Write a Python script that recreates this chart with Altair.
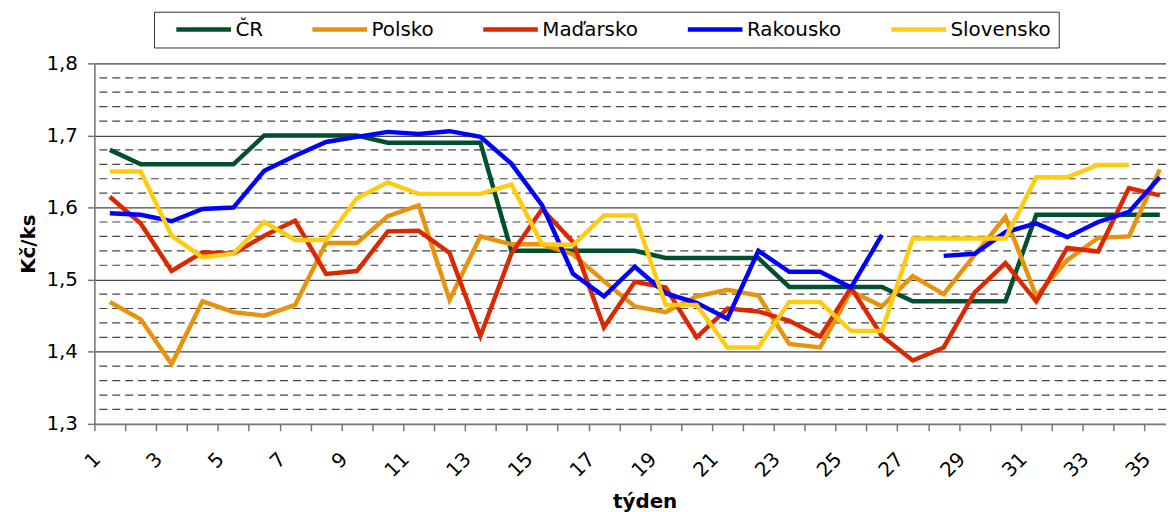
import altair as alt
import pandas as pd

FONT = "DejaVu Sans"

weeks = list(range(1, 36))
series_names = ["ČR", "Polsko", "Maďarsko", "Rakousko", "Slovensko"]
series_colors = ["#00502D", "#E8930C", "#DC2800", "#0000FF", "#FFCC11"]

cr = [1.68, 1.66, 1.66, 1.66, 1.66, 1.70, 1.70, 1.70, 1.70, 1.69,
      1.69, 1.69, 1.69, 1.54, 1.54, 1.54, 1.54, 1.54, 1.53, 1.53,
      1.53, 1.53, 1.49, 1.49, 1.49, 1.49, 1.47, 1.47, 1.47, 1.47,
      1.59, 1.59, 1.59, 1.59, 1.59]
polsko = [1.469, 1.445, 1.383, 1.470, 1.455, 1.450, 1.465, 1.551, 1.551, 1.588,
          1.603, 1.472, 1.560, 1.549, 1.549, 1.535, 1.498, 1.463, 1.455, 1.477,
          1.486, 1.478, 1.411, 1.406, 1.484, 1.463, 1.505, 1.480, 1.534, 1.587,
          1.477, 1.527, 1.558, 1.560, 1.653]
madarsko = [1.615, 1.578, 1.512, 1.538, 1.536, 1.561, 1.582, 1.508, 1.512, 1.567,
            1.568, 1.537, 1.422, 1.536, 1.598, 1.552, 1.434, 1.497, 1.489, 1.420,
            1.460, 1.456, 1.443, 1.421, 1.489, 1.422, 1.388, 1.406, 1.482, 1.523,
            1.470, 1.544, 1.539, 1.627, 1.617]
rakousko = [1.592, 1.590, 1.581, 1.598, 1.600, 1.651, 1.672, 1.691, 1.698, 1.705,
            1.702, 1.706, 1.698, 1.661, 1.603, 1.508, 1.477, 1.518, 1.481, 1.468,
            1.446, 1.540, 1.511, 1.511, 1.489, 1.562, None, 1.533, 1.536, 1.566,
            1.578, 1.559, 1.580, 1.594, 1.642]
slovensko = [1.650, 1.650, 1.561, 1.531, 1.536, 1.580, 1.555, 1.555, 1.613, 1.635,
             1.619, 1.619, 1.619, 1.632, 1.549, 1.548, 1.589, 1.589, 1.465, 1.465,
             1.406, 1.406, 1.469, 1.469, 1.429, 1.429, 1.557, 1.557, 1.557, 1.557,
             1.642, 1.642, 1.659, 1.659, None]

major_ticks = [1.3, 1.4, 1.5, 1.6, 1.7, 1.8]
minor_ticks = [1.32, 1.34, 1.36, 1.38, 1.42, 1.44, 1.46, 1.48,
               1.52, 1.54, 1.56, 1.58, 1.62, 1.64, 1.66, 1.68,
               1.72, 1.74, 1.76, 1.78]
week_labels = list(range(1, 36, 2))
week_ticks = [w - 0.5 for w in weeks]

all_series = [cr, polsko, madarsko, rakousko, slovensko]
rows = []
for name, vals in zip(series_names, all_series):
    for w, v in zip(weeks, vals):
        rows.append({"series": name, "week": w, "value": v})
df = pd.DataFrame(rows)

xscale = alt.Scale(domain=[0.5, 35.2], nice=False, zero=False)
yscale = alt.Scale(domain=[1.3, 1.8], nice=False, zero=False)

yaxis = alt.Axis(orient="left", values=major_ticks, format=".1f",
                 labelExpr="replace(datum.label, '.', ',')",
                 grid=True, gridColor="#444", gridWidth=1.3,
                 ticks=True, tickSize=7, tickColor="#777", tickWidth=1.5,
                 domain=True, domainColor="#777", domainWidth=1.5,
                 labelFontSize=20, labelFont=FONT, labelColor="black",
                 labelPadding=10, labelFlush=False,
                 title="Kč/ks", titleFont=FONT, titleFontSize=20,
                 titleFontWeight="bold", titleColor="black", titlePadding=8)

grid = alt.Chart(pd.DataFrame({"value": minor_ticks})).mark_rule(
    color="#444", strokeWidth=1.2, strokeDash=[8, 5]
).encode(y=alt.Y("value:Q", scale=yscale, axis=yaxis))

lines = alt.Chart(df).mark_line(
    strokeWidth=4.5, invalid="break-paths-show-domains"
).encode(
    x=alt.X("week:Q", scale=xscale,
            axis=alt.Axis(orient="bottom", values=week_ticks, labels=False, ticks=True,
                          tickSize=7, tickColor="#777", tickWidth=1.5, domain=True,
                          domainColor="#777", domainWidth=1.5, grid=False, title=None)),
    y=alt.Y("value:Q", scale=yscale, axis=yaxis),
    color=alt.Color("series:N", sort=series_names,
                    scale=alt.Scale(domain=series_names, range=series_colors),
                    legend=alt.Legend(orient="none", legendX=60, legendY=-52,
                                      direction="horizontal", title=None,
                                      symbolType="M-5,0H5", symbolSize=121,
                                      symbolStrokeWidth=4.5, symbolOffset=32,
                                      labelOffset=22, labelFontSize=20, labelFont=FONT,
                                      labelColor="black", columnPadding=35, padding=8,
                                      strokeColor="#333", fillColor="white",
                                      labelLimit=300)),
)

label_layer = alt.Chart(df).mark_point(opacity=0).encode(
    x=alt.X("week:Q", scale=xscale,
            axis=alt.Axis(orient="bottom", values=week_labels, labelAngle=-45,
                          ticks=False, domain=False, grid=False,
                          labelFontSize=20, labelFont=FONT, labelColor="black",
                          labelPadding=25, labelOffset=-20,
                          labelFlush=False, labelOverlap=False,
                          title="týden", titleFont=FONT, titleFontSize=20,
                          titleFontWeight="bold", titleColor="black", titlePadding=11,
                          titleX=554)),
    y=alt.Y("value:Q", scale=yscale, axis=yaxis),
)

chart = alt.layer(grid, lines, label_layer).resolve_axis(x="independent").properties(
    width=1079, height=363,
    autosize=alt.AutoSizeParams(type="none"),
    padding={"left": 87, "top": 54, "right": 0, "bottom": 92},
).configure_view(stroke=None).configure(font=FONT)

chart.save("out.html", embed_options={"renderer": "svg", "actions": False})
